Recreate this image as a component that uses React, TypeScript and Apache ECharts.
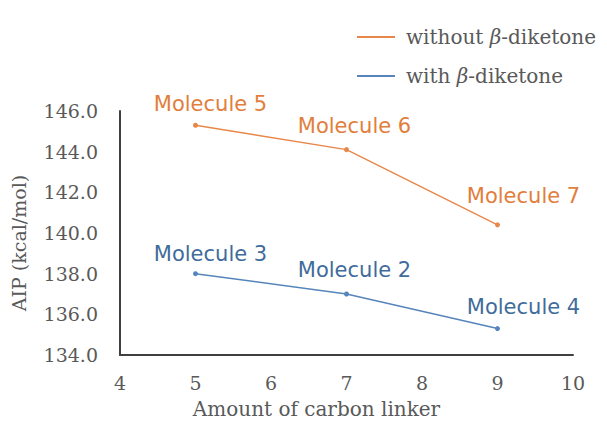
import React, { useEffect, useRef } from "react";
import * as echarts from "echarts";

const xValues = [5, 7, 9];
const withoutValues = [145.3, 144.1, 140.4];
const withValues = [138.0, 137.0, 135.3];
const withoutNames = ["Molecule 5", "Molecule 6", "Molecule 7"];
const withNames = ["Molecule 3", "Molecule 2", "Molecule 4"];
const seriesNames = ["without β-diketone", "with β-diketone"];
const withoutOffsets = [[15, -21], [8, -24], [26, -29]];
const withOffsets = [[15, -20], [8, -24], [26, -22]];

const ORANGE = "#E8874A";
const BLUE = "#5585BA";
const ORANGE_TEXT = "#E27E3C";
const BLUE_TEXT = "#3F6C9B";
const GRAY = "#595959";
const SERIF = "'DejaVu Serif', 'Liberation Serif', serif";
const SANS = "'DejaVu Sans', 'Open Sans', sans-serif";

export default function App() {
  const ref = useRef<HTMLDivElement>(null);
  useEffect(() => {
    if (!ref.current) return;
    const chart = echarts.init(ref.current, null, { renderer: "svg" });
    const mk = (vals: number[], names: string[], offs: number[][], color: string) =>
      vals.map((v, i) => ({
        value: [xValues[i], v],
        name: names[i],
        label: {
          show: true,
          position: "inside",
          offset: offs[i],
          formatter: names[i],
          color,
          fontFamily: SANS,
          fontSize: 21,
        },
      }));
    chart.setOption({
      animation: false,
      backgroundColor: "#ffffff",
      grid: { left: 120, right: 34, top: 111, bottom: 74 },
      legend: {
        orient: "vertical",
        left: 352,
        top: 22,
        itemGap: 19,
        itemWidth: 38,
        itemHeight: 2,
        icon: "rect",
        data: seriesNames,
        formatter: (n: string) => n.replace("β", "{i|β}"),
        textStyle: {
          fontFamily: SERIF,
          fontSize: 20,
          color: GRAY,
          padding: [0, 0, 0, 6],
          rich: { i: { fontStyle: "italic", fontFamily: SERIF, fontSize: 20, color: GRAY } },
        },
      },
      xAxis: {
        type: "value",
        min: 4,
        max: 10,
        interval: 1,
        name: "Amount of carbon linker",
        nameLocation: "middle",
        nameGap: 44,
        nameTextStyle: { fontFamily: SERIF, fontSize: 20, color: GRAY, padding: [0, 60, 0, 0] },
        axisLine: { lineStyle: { color: "#404040", width: 2 } },
        axisTick: { show: false },
        splitLine: { show: false },
        axisLabel: { fontFamily: SERIF, fontSize: 19, color: GRAY, margin: 18 },
      },
      yAxis: {
        type: "value",
        min: 134,
        max: 146,
        interval: 2,
        name: "AIP (kcal/mol)",
        nameLocation: "middle",
        nameGap: 92,
        nameTextStyle: { fontFamily: SERIF, fontSize: 19, color: GRAY, padding: [0, 20, 0, 0] },
        axisLine: { show: true, lineStyle: { color: "#404040", width: 2 } },
        axisTick: { show: false },
        splitLine: { show: false },
        axisLabel: {
          fontFamily: SERIF,
          fontSize: 19,
          color: GRAY,
          margin: 22,
          formatter: (v: number) => v.toFixed(1),
        },
      },
      series: [
        {
          name: seriesNames[0],
          type: "line",
          data: mk(withoutValues, withoutNames, withoutOffsets, ORANGE_TEXT),
          color: ORANGE,
          lineStyle: { color: ORANGE, width: 1.5 },
          itemStyle: { color: ORANGE },
          symbol: "circle",
          symbolSize: 5,
        },
        {
          name: seriesNames[1],
          type: "line",
          data: mk(withValues, withNames, withOffsets, BLUE_TEXT),
          color: BLUE,
          lineStyle: { color: BLUE, width: 1.5 },
          itemStyle: { color: BLUE },
          symbol: "circle",
          symbolSize: 5,
        },
      ],
    });
    return () => chart.dispose();
  }, []);
  return (
    <div
      ref={ref}
      style={{ position: "fixed", left: 0, top: 0, width: 607, height: 429, background: "#fff" }}
    />
  );
}
